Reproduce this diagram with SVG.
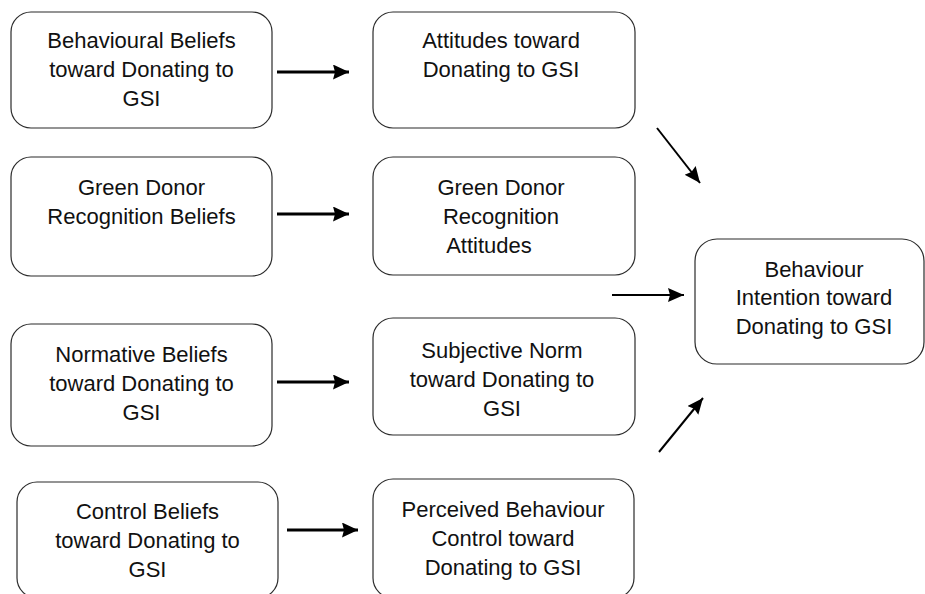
<svg xmlns="http://www.w3.org/2000/svg" width="925" height="594" viewBox="0 0 925 594">
<style>
.box{fill:#fff;stroke:#2b2b2b;stroke-width:1.2}
.t{font-family:"Liberation Sans",Arial,sans-serif;font-size:22px;fill:#111;text-anchor:middle}
.thick{stroke:#000;stroke-width:3;fill:none}
.thin{stroke:#000;stroke-width:2;fill:none}
</style>
<defs>
<marker id="ah" markerUnits="userSpaceOnUse" markerWidth="18" markerHeight="16" refX="16" refY="7.5" orient="auto">
<path d="M0,0 L16,7.5 L0,15 L2,7.5 z" fill="#000"/>
</marker>
<marker id="ah2" markerUnits="userSpaceOnUse" markerWidth="18" markerHeight="16" refX="16" refY="7" orient="auto">
<path d="M0,0 L16,7 L0,14 L2,7 z" fill="#000"/>
</marker>
</defs>
<rect width="925" height="594" fill="#fff"/>
<g id="n1"><rect class="box" x="11" y="12" width="261" height="116" rx="20"/>
<text class="t" x="141.5" y="48">Behavioural Beliefs</text><text class="t" x="141.5" y="77">toward Donating to</text><text class="t" x="141.5" y="106">GSI</text></g>
<g id="n2"><rect class="box" x="373" y="12" width="262" height="116" rx="20"/>
<text class="t" x="501" y="48">Attitudes toward</text><text class="t" x="501" y="77">Donating to GSI</text></g>
<g id="n3"><rect class="box" x="11" y="157" width="261" height="119" rx="20"/>
<text class="t" x="141.5" y="195">Green Donor</text><text class="t" x="141.5" y="224">Recognition Beliefs</text></g>
<g id="n4"><rect class="box" x="373" y="157" width="262" height="118" rx="20"/>
<text class="t" x="501" y="195">Green Donor</text><text class="t" x="501" y="224">Recognition</text><text class="t" x="489" y="253">Attitudes</text></g>
<g id="n5"><rect class="box" x="11" y="324" width="261" height="122" rx="20"/>
<text class="t" x="141.5" y="362">Normative Beliefs</text><text class="t" x="141.5" y="391">toward Donating to</text><text class="t" x="141.5" y="420">GSI</text></g>
<g id="n6"><rect class="box" x="373" y="318" width="262" height="117" rx="20"/>
<text class="t" x="502" y="358">Subjective Norm</text><text class="t" x="502" y="387">toward Donating to</text><text class="t" x="502" y="416">GSI</text></g>
<g id="n7"><rect class="box" x="17" y="482" width="261" height="116" rx="20"/>
<text class="t" x="147.5" y="519">Control Beliefs</text><text class="t" x="147.5" y="548">toward Donating to</text><text class="t" x="147.5" y="577">GSI</text></g>
<g id="n8"><rect class="box" x="373" y="479" width="261" height="119" rx="20"/>
<text class="t" x="503" y="517">Perceived Behaviour</text><text class="t" x="503" y="546">Control toward</text><text class="t" x="503" y="575">Donating to GSI</text></g>
<g id="n9"><rect class="box" x="695" y="239" width="229" height="125" rx="22"/>
<text class="t" x="814" y="277">Behaviour</text><text class="t" x="814" y="305">Intention toward</text><text class="t" x="814" y="334">Donating to GSI</text></g>
<g id="connectors">
<line class="thick" x1="277" y1="72" x2="349" y2="72" marker-end="url(#ah)"/>
<line class="thick" x1="277" y1="214" x2="349" y2="214" marker-end="url(#ah)"/>
<line class="thick" x1="277" y1="382" x2="349" y2="382" marker-end="url(#ah)"/>
<line class="thick" x1="287" y1="530" x2="358" y2="530" marker-end="url(#ah)"/>
<line class="thin" x1="612" y1="295" x2="684" y2="295" marker-end="url(#ah2)"/>
<line class="thin" x1="657" y1="128" x2="700" y2="183" marker-end="url(#ah2)"/>
<line class="thin" x1="659" y1="452" x2="703" y2="398" marker-end="url(#ah2)"/>
</g>
</svg>
